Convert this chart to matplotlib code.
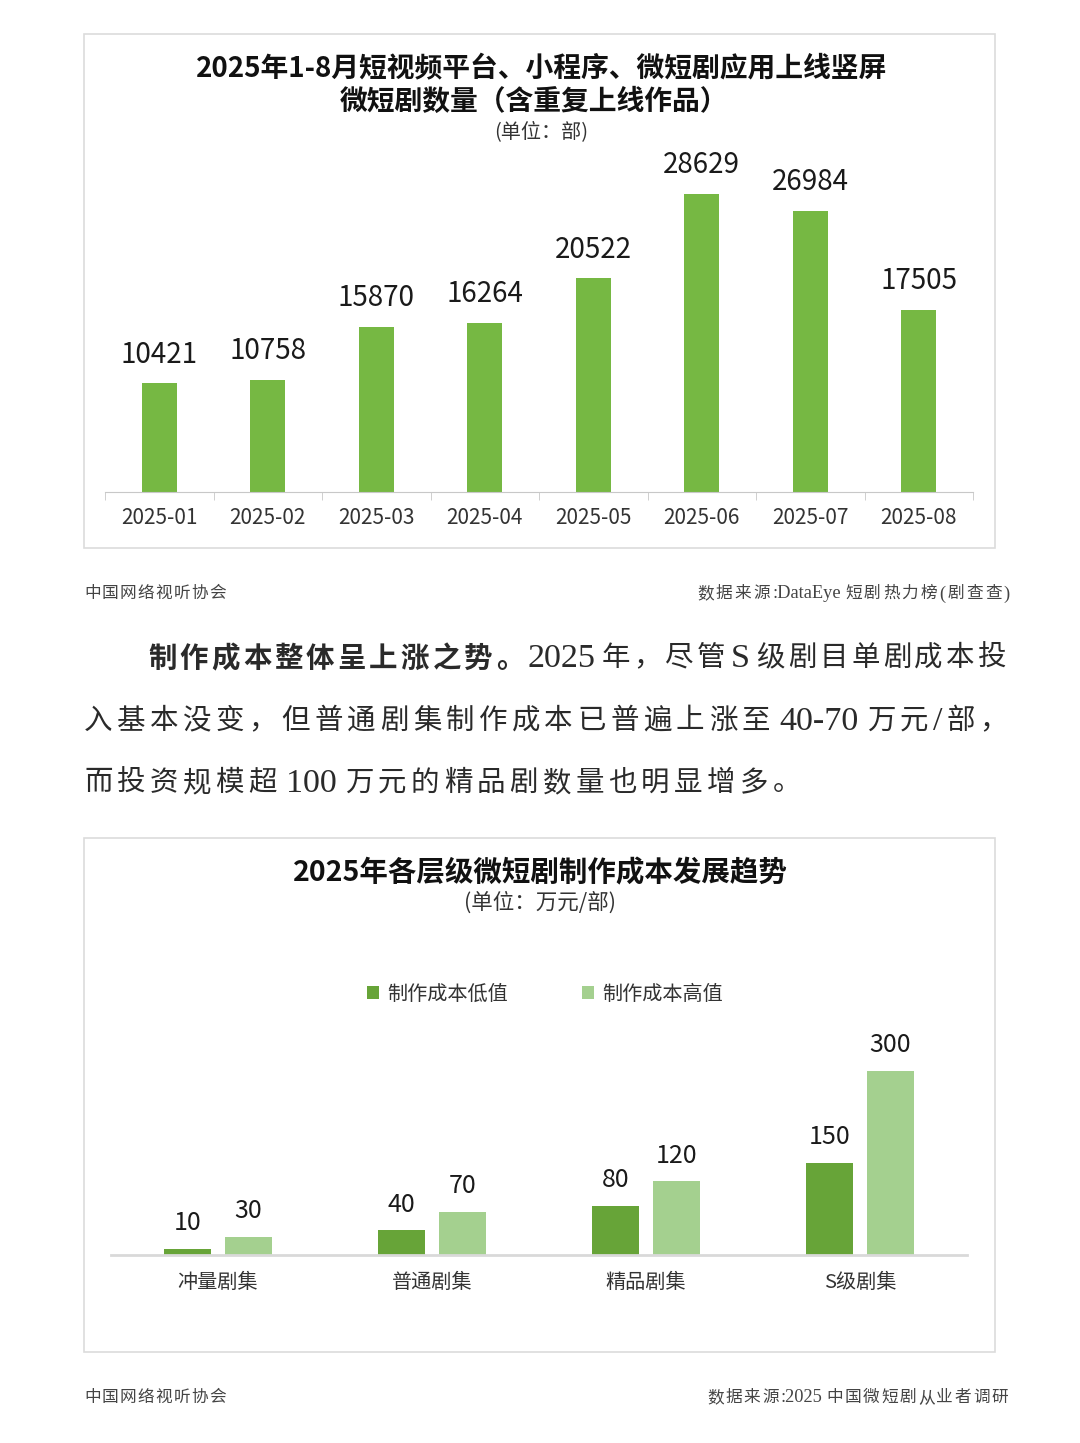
import re
import numpy as np
import matplotlib.pyplot as plt
from matplotlib.patches import Rectangle

plt.rcParams['font.family'] = ['Noto Sans CJK SC', 'DejaVu Sans']
SERIF = ['Liberation Serif', 'Noto Sans CJK SC']

# data - chart 1
months = ["2025-01", "2025-02", "2025-03", "2025-04",
          "2025-05", "2025-06", "2025-07", "2025-08"]
counts = [10421, 10758, 15870, 16264, 20522, 28629, 26984, 17505]

# data - chart 2
tiers = ["冲量剧集", "普通剧集", "精品剧集", "S级剧集"]
cost_low = [10, 40, 80, 150]
cost_high = [30, 70, 120, 300]
legend_labels = ["制作成本低值", "制作成本高值"]

W, H = 1080, 1443
fig = plt.figure(figsize=(W / 100, H / 100), dpi=100)
renderer = fig.canvas.get_renderer()


def fx(px):
    return px / W


def fy(py):
    return 1 - py / H


def ty(py):
    # CJK fonts sit a little high with va='center'
    return fy(py + 2)


def box(x0, y0, x1, y1):
    fig.patches.append(Rectangle((fx(x0), fy(y1)), fx(x1) - fx(x0), fy(y0) - fy(y1),
                                 transform=fig.transFigure, fill=False,
                                 edgecolor='#dcdcdc', lw=1.2))


def spaced(segments, x0, y, size, x1=None, gap=None, color='#333333', latin=1.2):
    """lay out text char by char; stretch to x1 or use a fixed gap"""
    items = []
    for text, weight, family in segments:
        for tok in re.findall(r'[A-Za-z0-9\-/:.()]+| |.', text):
            if tok == ' ':
                items.append((None, 0.0))
                continue
            fs = size * latin if tok.isascii() else size
            t = fig.text(0, ty(y), tok, ha='left', va='center', fontsize=fs,
                         fontweight=weight, family=family, color=color)
            items.append((t, t.get_window_extent(renderer).width))
    total = sum(w for _, w in items)
    if x1 is not None:
        gap = (x1 - x0 - total) / (len(items) - 1)
    x = x0
    for t, w in items:
        if t is not None:
            t.set_x(fx(x))
        x += w + gap
    return gap


# ---------- chart 1 ----------
box(84, 34, 995, 548)
fig.text(fx(542), ty(67), "2025年1-8月短视频平台、小程序、微短剧应用上线竖屏",
         ha='center', va='center', fontsize=20, fontweight='bold', color='#111111')
fig.text(fx(534), ty(100), "微短剧数量（含重复上线作品）",
         ha='center', va='center', fontsize=20, fontweight='bold', color='#111111')
fig.text(fx(541), ty(130), "(单位：部)", ha='center', va='center',
         fontsize=14.5, color='#333333')

ax1 = fig.add_axes([fx(105), fy(492), fx(973) - fx(105), (492 - 179.4) / H])
x1 = np.arange(len(months))
ax1.bar(x1, counts, width=0.32, color='#76b843')
ax1.set_xlim(-0.5, len(months) - 0.5)
ax1.set_ylim(0, 30000)
for s in ['top', 'right', 'left']:
    ax1.spines[s].set_visible(False)
ax1.spines['bottom'].set_color('#c8c8c8')
ax1.set_yticks([])
ax1.set_xticks(x1, months)
ax1.set_xticks(np.arange(-0.5, len(months), 1), minor=True)
ax1.tick_params(axis='x', which='major', length=0, pad=11, labelsize=15, labelcolor='#333333')
ax1.tick_params(axis='x', which='minor', length=6, color='#c8c8c8')
for i, v in enumerate(counts):
    ax1.annotate(str(v), (i, v), xytext=(0, 20.5), textcoords='offset points',
                 ha='center', va='center', fontsize=20, color='#1a1a1a',
                 annotation_clip=False)

spaced([("中国网络视听协会", 'normal', SERIF)], 84, 592, 12, x1=226, color='#444444')
spaced([("数据来源:DataEye 短剧热力榜(剧查查)", 'normal', SERIF)], 697, 592, 12,
       x1=1010, color='#444444', latin=1.1)

# ---------- paragraph ----------
spaced([("制作成本整体呈上涨之势。", 'bold', ['Noto Sans CJK SC']),
        ("2025 年，尽管 S 级剧目单剧成本投", 'normal', SERIF)],
       148, 657, 20.5, x1=1006, color='#2a2a2a')
g = spaced([("入基本没变，但普通剧集制作成本已普遍上涨至 40-70 万元/部，", 'normal', SERIF)],
           84, 720, 20.5, x1=1008, color='#2a2a2a')
spaced([("而投资规模超 100 万元的精品剧数量也明显增多。", 'normal', SERIF)],
       84, 782, 20.5, gap=g, color='#2a2a2a')

# ---------- chart 2 ----------
box(84, 838, 995, 1352)
fig.text(fx(540), ty(871), "2025年各层级微短剧制作成本发展趋势", ha='center', va='center',
         fontsize=20.5, fontweight='bold', color='#111111')
fig.text(fx(540), ty(901), "(单位：万元/部)", ha='center', va='center',
         fontsize=15.5, color='#333333')

ax2 = fig.add_axes([fx(111), fy(1255), fx(967) - fx(111), 202.3 / H])
x2 = np.arange(len(tiers))
off = 0.1425
b_low = ax2.bar(x2 - off, cost_low, width=0.224, color='#67a438', label=legend_labels[0])
b_high = ax2.bar(x2 + off, cost_high, width=0.224, color='#a4d08f', label=legend_labels[1])
ax2.set_xlim(-0.5, len(tiers) - 0.5)
ax2.set_ylim(0, 330)
for s in ['top', 'right', 'left']:
    ax2.spines[s].set_visible(False)
ax2.spines['bottom'].set_color('#d9d9d9')
ax2.spines['bottom'].set_linewidth(2)
ax2.set_yticks([])
ax2.set_xticks(x2, tiers)
ax2.tick_params(axis='x', length=0, pad=12, labelsize=14.5, labelcolor='#333333')
for bars in (b_low, b_high):
    for r in bars:
        h = r.get_height()
        ax2.annotate(f"{h:g}", (r.get_x() + r.get_width() / 2, h), xytext=(0, 18.5),
                     textcoords='offset points', ha='center', va='center',
                     fontsize=18, color='#1a1a1a', annotation_clip=False)

ax2.legend(ncol=2, loc='center', bbox_to_anchor=(fx(545), fy(994)),
           bbox_transform=fig.transFigure, frameon=False, fontsize=14.5,
           handlelength=0.6, handleheight=0.6, handletextpad=0.4,
           columnspacing=3.7, labelcolor='#333333')

spaced([("中国网络视听协会", 'normal', SERIF)], 84, 1396, 12, x1=226, color='#444444')
spaced([("数据来源:2025 中国微短剧从业者调研", 'normal', SERIF)], 707, 1396, 12,
       x1=1008, color='#444444', latin=1.1)

fig.savefig("out.png", dpi=100, facecolor='white')
